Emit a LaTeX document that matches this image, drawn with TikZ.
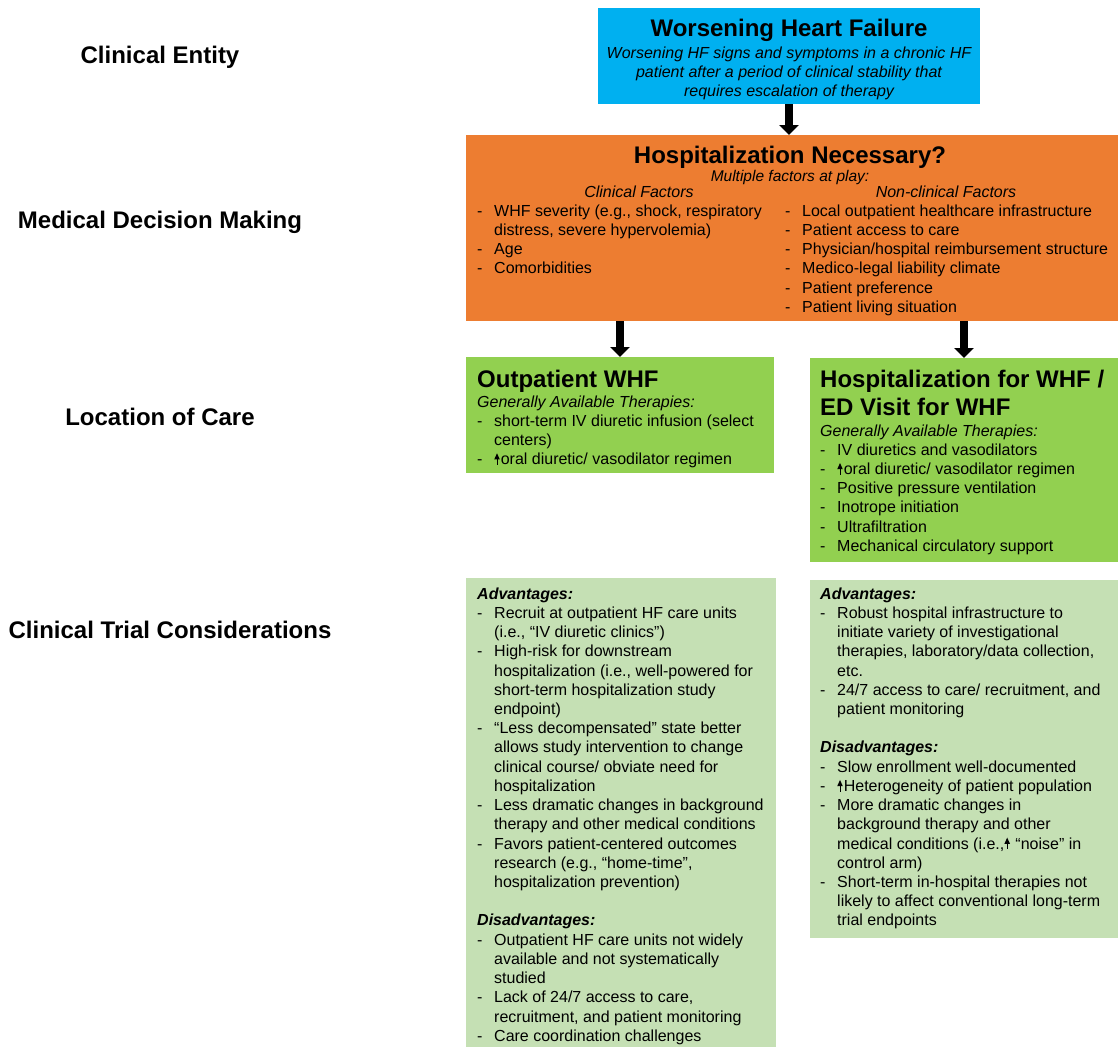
\documentclass[tikz,border=0pt]{standalone}
\usepackage{fontspec}
\setmainfont{Liberation Sans}
\usetikzlibrary{arrows.meta}

\definecolor{hfblue}{HTML}{00B0F0}
\definecolor{hforange}{HTML}{ED7D31}
\definecolor{hfgreen}{HTML}{92D050}
\definecolor{hfpale}{HTML}{C5E0B4}

% list dash with hanging indent
\newcommand\bl{\makebox[17pt][l]{-}}
\newcommand\ind{\hspace*{17pt}}
% small "increase" arrow used inside the lists
\newcommand\upa{\tikz[baseline=0pt,x=1pt,y=1pt]{%
  \fill (2.3,-0.3) rectangle (3.3,6);
  \fill (0,5.2)--(5.6,5.2)--(2.8,11.4)--cycle;}\hspace{1pt}}

\begin{document}
\begin{tikzpicture}[x=1pt,y=-1pt,
  panel/.style={draw=none, inner sep=0pt, outer sep=0pt, anchor=north west},
  rowlabel/.style={font=\fontsize{24}{28}\selectfont\bfseries, inner sep=0pt, anchor=base},
  heading/.style={font=\fontsize{24}{28}\selectfont\bfseries, inner sep=0pt},
  body/.style={font=\fontsize{16}{19.25}\selectfont, inner sep=0pt, align=left, anchor=north west},
  note/.style={font=\fontsize{16}{19.25}\selectfont\itshape, inner sep=0pt},
  bigarrow/.style={line width=8pt, -{Triangle[length=10pt,width=19pt]}}]

\fill[white] (0,0) rectangle (1118,1049);
\useasboundingbox (0,0) rectangle (1118,1049);

% ---- boxes ----
\node[panel, fill=hfblue, minimum width=382pt, minimum height=96pt] (whf) at (598,8) {};
\node[panel, fill=hforange, minimum width=652pt, minimum height=186pt] (dec) at (466,135) {};
\node[panel, fill=hfgreen, minimum width=308pt, minimum height=116pt] (out) at (466,357) {};
\node[panel, fill=hfgreen, minimum width=308pt, minimum height=204pt] (hosp) at (810,358) {};
\node[panel, fill=hfpale, minimum width=310pt, minimum height=469pt] (tout) at (466,578) {};
\node[panel, fill=hfpale, minimum width=308pt, minimum height=358pt] (thosp) at (810,580) {};

% ---- connectors ----
\draw[bigarrow] (whf.south) -- (dec.north -| whf.south);
\draw[bigarrow] (dec.south -| out.north) -- (out.north);
\draw[bigarrow] (dec.south -| hosp.north) -- (hosp.north);

% ---- row labels ----
\node[rowlabel] (l1) at (160,63.5) {Clinical Entity};
\node[rowlabel] (l2) at (160,228.5) {Medical Decision Making};
\node[rowlabel] (l3) at (160,425.5) {Location of Care};
\node[rowlabel] (l4) at (170,638.5) {Clinical Trial Considerations};

% ---- worsening heart failure ----
\node[heading, anchor=base] (whfT) at (789,36.5) {Worsening Heart Failure};
\node[note, align=center, anchor=north] (whfS) at (789,44.5)
  {\strut Worsening HF signs and symptoms in a chronic HF\\
   patient after a period of clinical stability that\\
   requires escalation of therapy};

% ---- decision box ----
\node[heading, anchor=base] (decT) at (790,163) {Hospitalization Necessary?};
\node[note, font=\fontsize{15.5}{18}\selectfont\itshape, anchor=base] (decS) at (790,181) {Multiple factors at play:};
\node[note, anchor=base] (decCF) at (639,197) {Clinical Factors};
\node[note, anchor=base] (decNF) at (946,197) {Non-clinical Factors};
\node[body] (decL) at (477,202.5)
  {\strut\bl WHF severity (e.g., shock, respiratory\\
   \ind distress, severe hypervolemia)\\
   \bl Age\\
   \bl Comorbidities};
\node[body] (decR) at (785,202.5)
  {\strut\bl Local outpatient healthcare infrastructure\\
   \bl Patient access to care\\
   \bl Physician/hospital reimbursement structure\\
   \bl Medico-legal liability climate\\
   \bl Patient preference\\
   \bl Patient living situation};

% ---- outpatient ----
\node[heading, anchor=base west] (outT) at (477,387) {Outpatient WHF};
\node[note, anchor=base west] (outS) at (477,407) {Generally Available Therapies:};
\node[body] (outL) at (477,412.5)
  {\strut\bl short-term IV diuretic infusion (select\\
   \ind centers)\\
   \bl\upa oral diuretic/ vasodilator regimen};

% ---- hospitalization ----
\node[heading, align=left, anchor=north west] (hospT) at (820,367.4)
  {\strut Hospitalization for WHF /\\ ED Visit for WHF};
\node[note, anchor=base west] (hospS) at (820,436) {Generally Available Therapies:};
\node[body] (hospL) at (820,441.5)
  {\strut\bl IV diuretics and vasodilators\\
   \bl\upa oral diuretic/ vasodilator regimen\\
   \bl Positive pressure ventilation\\
   \bl Inotrope initiation\\
   \bl Ultrafiltration\\
   \bl Mechanical circulatory support};

% ---- trial considerations, outpatient ----
\node[body, font=\fontsize{16}{19.22}\selectfont] (toutL) at (477,585.5)
  {\strut\textbf{\textit{Advantages:}}\\
   \bl Recruit at outpatient HF care units\\
   \ind (i.e., “IV diuretic clinics”)\\
   \bl High-risk for downstream\\
   \ind hospitalization (i.e., well-powered for\\
   \ind short-term hospitalization study\\
   \ind endpoint)\\
   \bl “Less decompensated” state better\\
   \ind allows study intervention to change\\
   \ind clinical course/ obviate need for\\
   \ind hospitalization\\
   \bl Less dramatic changes in background\\
   \ind therapy and other medical conditions\\
   \bl Favors patient-centered outcomes\\
   \ind research (e.g., “home-time”,\\
   \ind hospitalization prevention)\\
   \strut\\
   \textbf{\textit{Disadvantages:}}\\
   \bl Outpatient HF care units not widely\\
   \ind available and not systematically\\
   \ind studied\\
   \bl Lack of 24/7 access to care,\\
   \ind recruitment, and patient monitoring\\
   \bl Care coordination challenges};

% ---- trial considerations, hospital ----
\node[body, font=\fontsize{16}{19.22}\selectfont] (thospL) at (820,585.5)
  {\strut\textbf{\textit{Advantages:}}\\
   \bl Robust hospital infrastructure to\\
   \ind initiate variety of investigational\\
   \ind therapies, laboratory/data collection,\\
   \ind etc.\\
   \bl 24/7 access to care/ recruitment, and\\
   \ind patient monitoring\\
   \strut\\
   \textbf{\textit{Disadvantages:}}\\
   \bl Slow enrollment well-documented\\
   \bl\upa Heterogeneity of patient population\\
   \bl More dramatic changes in\\
   \ind background therapy and other\\
   \ind medical conditions (i.e.,\upa{} “noise” in\\
   \ind control arm)\\
   \bl Short-term in-hospital therapies not\\
   \ind likely to affect conventional long-term\\
   \ind trial endpoints};
\end{tikzpicture}
\end{document}
